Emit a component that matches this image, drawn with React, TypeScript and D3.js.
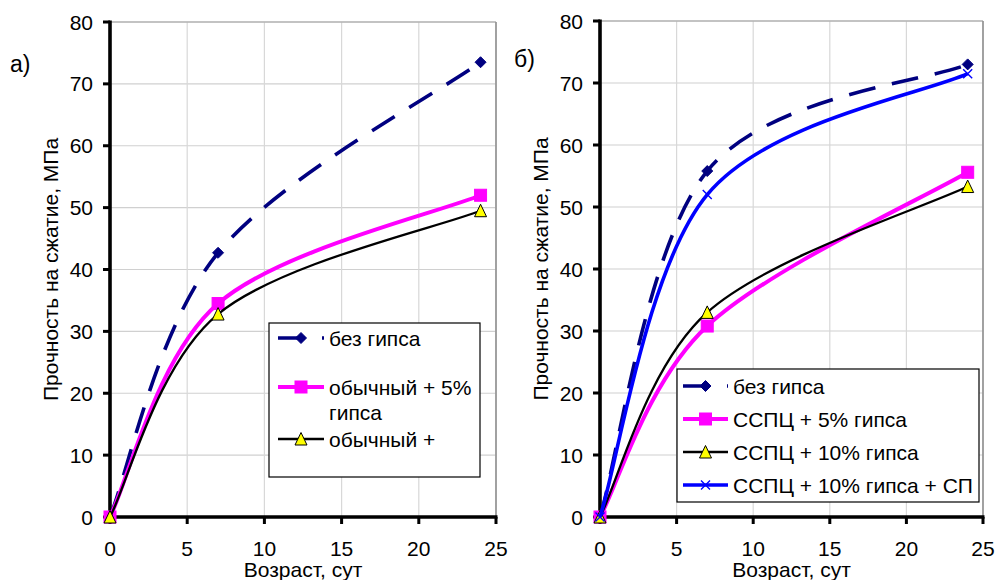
import React from "react";
import * as d3 from "d3";

// возраст, сут
const days = [0, 7, 24];

// панель а)
const aNoGypsum = [0, 42.7, 73.5];
const aOrdinary5 = [0, 34.5, 52.0];
const aOrdinaryPlus = [0, 32.8, 49.5];

// панель б)
const bNoGypsum = [0, 55.8, 73.0];
const bSspc5 = [0, 30.8, 55.6];
const bSspc10 = [0, 33.0, 53.3];
const bSspc10Sp = [0, 52.0, 71.5];

const xTicks = [0, 5, 10, 15, 20, 25];
const yTicks = [0, 10, 20, 30, 40, 50, 60, 70, 80];

const legendA = [["без гипса"], ["обычный + 5%", "гипса"], ["обычный +"]];
const legendB = [["без гипса"], ["ССПЦ + 5% гипса"], ["ССПЦ + 10% гипса"], ["ССПЦ + 10% гипса + СП"]];

const FONT = "'Liberation Sans', Arial, sans-serif";
const FS = 21;

type Style = { stroke: string; width: number; dash?: string; marker: "diamond" | "square" | "triangle" | "cross" };

const navy: Style = { stroke: "#000080", width: 3.6, dash: "27,17", marker: "diamond" };
const pink: Style = { stroke: "#ff00ff", width: 4, marker: "square" };
const black: Style = { stroke: "#000000", width: 2.3, marker: "triangle" };
const blue: Style = { stroke: "#0000ff", width: 3.6, marker: "cross" };

// сглаживание как в Excel: касательные (P[i+1]-P[i-1])/6, на концах точка дублируется
function excelSmooth(context: any) {
  let pts: [number, number][] = [];
  return {
    areaStart() {},
    areaEnd() {},
    lineStart() {
      pts = [];
    },
    point(x: number, y: number) {
      pts.push([+x, +y]);
    },
    lineEnd() {
      const n = pts.length;
      if (!n) return;
      context.moveTo(pts[0][0], pts[0][1]);
      for (let i = 0; i < n - 1; i++) {
        const p0 = pts[Math.max(0, i - 1)];
        const p1 = pts[i];
        const p2 = pts[i + 1];
        const p3 = pts[Math.min(n - 1, i + 2)];
        context.bezierCurveTo(
          p1[0] + (p2[0] - p0[0]) / 6,
          p1[1] + (p2[1] - p0[1]) / 6,
          p2[0] - (p3[0] - p1[0]) / 6,
          p2[1] - (p3[1] - p1[1]) / 6,
          p2[0],
          p2[1]
        );
      }
    },
  };
}

function Marker({ kind, x, y }: { kind: Style["marker"]; x: number; y: number }) {
  if (kind === "diamond") {
    const r = 5.5;
    return <path d={`M${x},${y - r}L${x + r},${y}L${x},${y + r}L${x - r},${y}Z`} fill="#000080" stroke="#000080" strokeWidth={1} />;
  }
  if (kind === "square") {
    const s = 12;
    return <rect x={x - s / 2} y={y - s / 2} width={s} height={s} fill="#ff00ff" stroke="#ff00ff" strokeWidth={1} />;
  }
  if (kind === "triangle") {
    const w = 12;
    return (
      <path
        d={`M${x},${y - w / 2 - 0.5}L${x + w / 2},${y + w / 2}L${x - w / 2},${y + w / 2}Z`}
        fill="#ffff00"
        stroke="#000"
        strokeWidth={1}
      />
    );
  }
  const r = 4.5;
  return (
    <path d={`M${x - r},${y - r}L${x + r},${y + r}M${x - r},${y + r}L${x + r},${y - r}`} stroke="#0000ff" strokeWidth={1.4} />
  );
}

type PanelProps = {
  left: number;
  right: number;
  top: number;
  bottom: number;
  label: string;
  labelX: number;
  labelY: number;
  series: { values: number[]; style: Style }[];
  legend: string[][];
  legendBox: { x: number; y: number; w: number; h: number };
  legendRows: number[];
  sampleX: [number, number];
  yTitleX: number;
};

function Panel(p: PanelProps) {
  const x = d3.scaleLinear().domain([0, 25]).range([p.left, p.right]);
  const y = d3.scaleLinear().domain([0, 80]).range([p.bottom, p.top]);
  const line = d3
    .line<number>()
    .x((_, i) => x(days[i]))
    .y((d) => y(d))
    .curve(excelSmooth as any);

  return (
    <g fontFamily={FONT}>
      {/* сетка */}
      {yTicks.slice(1).map((t) => (
        <line key={"gy" + t} x1={p.left} x2={p.right} y1={y(t)} y2={y(t)} stroke="#d0d0d0" strokeWidth={1.2} />
      ))}
      {xTicks.slice(1).map((t) => (
        <line key={"gx" + t} x1={x(t)} x2={x(t)} y1={p.top} y2={p.bottom} stroke="#d8d8d8" strokeWidth={1.2} />
      ))}
      <line x1={p.left} x2={p.right} y1={p.top} y2={p.top} stroke="#a0a0a0" strokeWidth={1.2} />
      <line x1={p.right} x2={p.right} y1={p.top} y2={p.bottom} stroke="#909090" strokeWidth={1.6} />

      {/* оси */}
      <line x1={p.left} x2={p.left} y1={p.top - 1.5} y2={p.bottom + 1.5} stroke="#000" strokeWidth={3.6} />
      <line x1={p.left} x2={p.right + 1.5} y1={p.bottom} y2={p.bottom} stroke="#000" strokeWidth={3.6} />
      {yTicks.map((t) => (
        <g key={"ty" + t}>
          <line x1={p.left - 7} x2={p.left} y1={y(t)} y2={y(t)} stroke="#000" strokeWidth={3} />
          <text x={p.left - 17} y={y(t)} dy="0.36em" textAnchor="end" fontSize={FS}>
            {t}
          </text>
        </g>
      ))}
      {xTicks.map((t) => (
        <g key={"tx" + t}>
          <line x1={x(t)} x2={x(t)} y1={p.bottom} y2={p.bottom + 7} stroke="#000" strokeWidth={3} />
          <text x={x(t)} y={556} textAnchor="middle" fontSize={FS}>
            {t}
          </text>
        </g>
      ))}
      <text x={(p.left + p.right) / 2} y={577} textAnchor="middle" fontSize={FS}>
        Возраст, сут
      </text>
      <text
        transform={`translate(${p.yTitleX},${(p.top + p.bottom) / 2}) rotate(-90)`}
        textAnchor="middle"
        dy="0.36em"
        fontSize={FS}
      >
        Прочность на сжатие, МПа
      </text>
      <text x={p.labelX} y={p.labelY} fontSize={23}>
        {p.label}
      </text>

      {/* кривые */}
      {p.series.map((s, i) => (
        <g key={"s" + i}>
          <path
            d={line(s.values) || ""}
            fill="none"
            stroke={s.style.stroke}
            strokeWidth={s.style.width}
            strokeDasharray={s.style.dash}
          />
          {s.values.map((v, j) => (
            <Marker key={j} kind={s.style.marker} x={x(days[j])} y={y(v)} />
          ))}
        </g>
      ))}

      {/* легенда */}
      <rect
        x={p.legendBox.x}
        y={p.legendBox.y}
        width={p.legendBox.w}
        height={p.legendBox.h}
        fill="#fff"
        stroke="#000"
        strokeWidth={1.2}
      />
      {p.legend.map((lines, i) => {
        const s = p.series[i].style;
        const ry = p.legendRows[i];
        const mx = (p.sampleX[0] + p.sampleX[1]) / 2;
        return (
          <g key={"l" + i}>
            <line
              x1={p.sampleX[0]}
              x2={p.sampleX[1]}
              y1={ry}
              y2={ry}
              stroke={s.stroke}
              strokeWidth={s.width}
              strokeDasharray={s.dash}
            />
            <Marker kind={s.marker} x={mx} y={ry} />
            {lines.map((t, k) => (
              <text key={k} x={p.sampleX[1] + 5} y={ry + k * 25} dy="0.36em" fontSize={FS}>
                {t}
              </text>
            ))}
          </g>
        );
      })}
    </g>
  );
}

export default function App() {
  return (
    <svg width={996} height={580} style={{ position: "absolute", left: 0, top: 0, background: "#fff" }}>
      <rect width={996} height={580} fill="#fff" />
      <Panel
        left={110}
        right={496}
        top={22}
        bottom={517}
        label="а)"
        labelX={10}
        labelY={72}
        series={[
          { values: aNoGypsum, style: navy },
          { values: aOrdinary5, style: pink },
          { values: aOrdinaryPlus, style: black },
        ]}
        legend={legendA}
        legendBox={{ x: 269, y: 323, w: 211, h: 154 }}
        legendRows={[338, 387, 439]}
        sampleX={[278, 324]}
        yTitleX={50}
      />
      <Panel
        left={600}
        right={983}
        top={21}
        bottom={517}
        label="б)"
        labelX={514}
        labelY={67}
        series={[
          { values: bNoGypsum, style: navy },
          { values: bSspc5, style: pink },
          { values: bSspc10, style: black },
          { values: bSspc10Sp, style: blue },
        ]}
        legend={legendB}
        legendBox={{ x: 677, y: 369, w: 302, h: 133 }}
        legendRows={[386, 419, 452, 485]}
        sampleX={[683, 728]}
        yTitleX={540}
      />
    </svg>
  );
}
